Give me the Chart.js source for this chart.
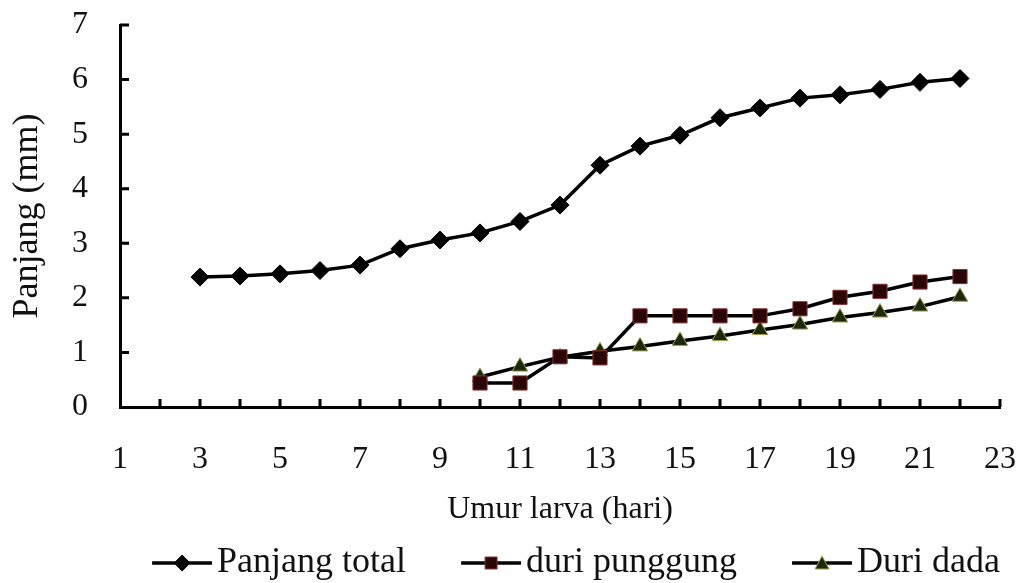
<!DOCTYPE html>
<html>
<head>
<meta charset="utf-8">
<script src="https://cdn.jsdelivr.net/npm/chart.js@4"></script>
<style>
  html, body { margin: 0; padding: 0; background: #fff; }
  #wrap { width: 1024px; height: 583px; }
</style>
</head>
<body>
<div id="wrap"><canvas id="grafik"></canvas></div>
<script>
// data
const hari = [3, 4, 5, 6, 7, 8, 9, 10, 11, 12, 13, 14, 15, 16, 17, 18, 19, 20, 21, 22];
const panjangTotal = [2.38, 2.40, 2.44, 2.50, 2.60, 2.90, 3.06, 3.19, 3.40, 3.70, 4.43, 4.78, 4.98, 5.30, 5.48, 5.66, 5.72, 5.82, 5.95, 6.02];
const duriPunggung = [null, null, null, null, null, null, null, 0.44, 0.44, 0.92, 0.90, 1.67, 1.67, 1.67, 1.67, 1.80, 2.01, 2.12, 2.29, 2.39];
const duriDada = [null, null, null, null, null, null, null, 0.55, 0.74, 0.91, 1.02, 1.11, 1.21, 1.30, 1.41, 1.51, 1.64, 1.73, 1.84, 2.02];
const yTicks = [0, 1, 2, 3, 4, 5, 6, 7];

const FONT = 'Liberation Serif, Times New Roman, serif';
const KOTAK = 102; // lebar kotak legenda

function toPoints(vals) {
  return hari.map((h, i) => ({ x: h, y: vals[i] }));
}

// ikon legenda: garis 60px dengan penanda, berakhir 5px sebelum teks
function legendIcon(style, fill, stroke) {
  const half = KOTAK / 2 + 13;
  const c = document.createElement('canvas');
  c.width = half * 2; c.height = 22;
  const g = c.getContext('2d');
  const x0 = c.width - 60, m = c.width - 30;
  g.strokeStyle = '#000';
  g.lineWidth = 3.5;
  g.beginPath(); g.moveTo(x0, 11); g.lineTo(c.width, 11); g.stroke();
  g.fillStyle = fill;
  g.strokeStyle = stroke;
  g.lineWidth = 1;
  g.beginPath();
  if (style === 'diamond') {
    g.moveTo(m, 3); g.lineTo(m + 8, 11); g.lineTo(m, 19); g.lineTo(m - 8, 11);
  } else if (style === 'square') {
    g.rect(m - 6, 5, 12, 12);
  } else {
    g.moveTo(m, 4); g.lineTo(m + 7, 17); g.lineTo(m - 7, 17);
  }
  g.closePath(); g.fill(); g.stroke();
  return c;
}

const seri = [
  { label: 'Panjang total', data: toPoints(panjangTotal), pointStyle: 'rectRot', pointRadius: 9,
    backgroundColor: '#000', pointBorderColor: '#000', icon: legendIcon('diamond', '#000', '#000') },
  { label: 'duri punggung', data: toPoints(duriPunggung), pointStyle: 'rect', pointRadius: 10,
    backgroundColor: '#2a0606', pointBorderColor: '#8a3030', icon: legendIcon('square', '#2a0606', '#8a3030') },
  { label: 'Duri dada', data: toPoints(duriDada), pointStyle: 'triangle', pointRadius: 9,
    backgroundColor: '#1c2a0c', pointBorderColor: '#a0a050', icon: legendIcon('triangle', '#1c2a0c', '#a0a050') }
];

// tanda skala ke arah dalam
const tickDalam = {
  id: 'tickDalam',
  afterDatasetsDraw(chart) {
    const { ctx, scales: { x, y } } = chart;
    const y0 = y.getPixelForValue(0);
    const x0 = x.getPixelForValue(1);
    ctx.save();
    ctx.strokeStyle = '#000';
    ctx.lineWidth = 3;
    ctx.beginPath();
    for (let v = 2; v <= 23; v++) {
      const px = x.getPixelForValue(v);
      ctx.moveTo(px, y0); ctx.lineTo(px, y0 - 8);
    }
    yTicks.forEach(v => {
      if (v === 0) return;
      const py = y.getPixelForValue(v);
      ctx.moveTo(x0, py); ctx.lineTo(x0 + 9, py);
    });
    ctx.stroke();
    ctx.restore();
  }
};

new Chart(document.getElementById('grafik'), {
  type: 'line',
  data: {
    datasets: seri.map(s => ({
      label: s.label,
      data: s.data,
      borderColor: '#000',
      borderWidth: 3.5,
      backgroundColor: s.backgroundColor,
      pointBackgroundColor: s.backgroundColor,
      pointBorderColor: s.pointBorderColor,
      pointBorderWidth: 1,
      pointStyle: s.pointStyle,
      pointRadius: s.pointRadius,
      tension: 0,
      fill: false,
      icon: s.icon
    }))
  },
  options: {
    responsive: true,
    maintainAspectRatio: false,
    animation: false,
    layout: { padding: { top: 25, right: 24, left: 0, bottom: -8 } },
    plugins: {
      tooltip: { enabled: false },
      legend: {
        position: 'bottom',
        align: 'end',
        labels: {
          usePointStyle: true,
          pointStyleWidth: KOTAK,
          boxHeight: 22,
          padding: 0,
          color: '#111',
          font: { family: FONT, size: 36 },
          generateLabels(chart) {
            return chart.data.datasets.map((d, i) => ({
              text: d.label,
              pointStyle: d.icon,
              fillStyle: d.backgroundColor,
              strokeStyle: '#000',
              lineWidth: 0,
              hidden: false,
              datasetIndex: i,
              fontColor: '#111'
            }));
          }
        }
      }
    },
    scales: {
      x: {
        type: 'linear',
        min: 1,
        max: 23,
        grid: { display: false, drawTicks: false },
        border: { display: true, color: '#000', width: 3 },
        afterFit(scale) {
          scale.height = 138;
          scale.paddingLeft = 0;
          scale.paddingRight = 0;
        },
        ticks: {
          stepSize: 1,
          autoSkip: false,
          maxRotation: 0,
          padding: 33,
          color: '#111',
          font: { family: FONT, size: 32 },
          callback: v => (v % 2 === 1 ? String(v) : '')
        },
        title: {
          display: true,
          text: 'Umur larva (hari)',
          color: '#111',
          font: { family: FONT, size: 32 },
          padding: { top: 0, bottom: 16 }
        }
      },
      y: {
        min: 0,
        max: 7,
        grid: { display: false, drawTicks: false },
        border: { display: true, color: '#000', width: 3 },
        afterFit(scale) {
          scale.width = 120;
          scale.paddingTop = 0;
          scale.paddingBottom = 0;
        },
        ticks: {
          stepSize: 1,
          padding: 32,
          color: '#111',
          font: { family: FONT, size: 32 }
        },
        title: {
          display: true,
          text: 'Panjang (mm)',
          color: '#111',
          font: { family: FONT, size: 36 },
          padding: { top: 6, bottom: 0 }
        }
      }
    }
  },
  plugins: [tickDalam]
});
</script>
</body>
</html>
